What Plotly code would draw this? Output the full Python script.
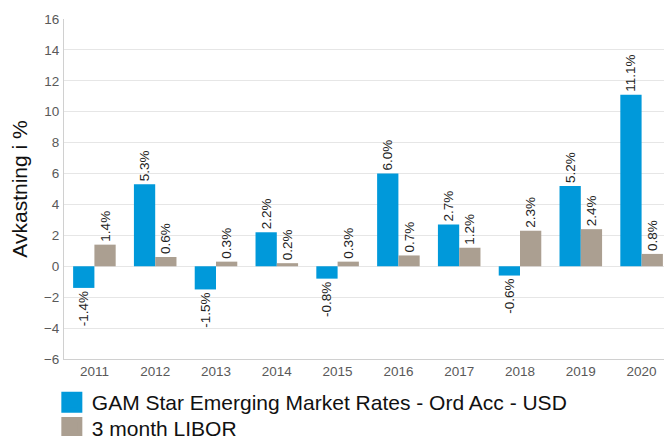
import plotly.graph_objects as go

years = ["2011", "2012", "2013", "2014", "2015", "2016", "2017", "2018", "2019", "2020"]
gam = [-1.4, 5.3, -1.5, 2.2, -0.8, 6.0, 2.7, -0.6, 5.2, 11.1]
libor = [1.4, 0.6, 0.3, 0.2, 0.3, 0.7, 1.2, 2.3, 2.4, 0.8]
names = ["GAM Star Emerging Market Rates - Ord Acc - USD", "3 month LIBOR"]
colors = ["#0099DA", "#AB9F91"]
legend_ids = ["legend", "legend2"]

fig = go.Figure()
for vals, name, col, lg in zip([gam, libor], names, colors, legend_ids):
    fig.add_trace(go.Bar(
        x=years, y=vals, name=name, marker_color=col, marker_line_width=0,
        text=[f"{v:.1f}%" for v in vals], textposition="outside", textangle=-90,
        textfont=dict(size=13.5, color="#222222"), cliponaxis=False,
        constraintext="none", showlegend=False,
    ))
    fig.add_trace(go.Scatter(
        x=[None], y=[None], mode="markers", name=name, legend=lg,
        marker=dict(symbol="square", size=16, color=col,
                    line=dict(width=5, color=col)),
    ))

legend_style = dict(orientation="v", x=-0.02, xanchor="left", yanchor="top",
                    font=dict(size=21, color="#111111"), itemsizing="trace",
                    bgcolor="rgba(0,0,0,0)")

# the page body has an 8px margin, so the figure is sized to end at the window edge
fig.update_layout(
    width=664, height=428,
    margin=dict(l=56, r=0, t=11, b=77, autoexpand=False),
    paper_bgcolor="white", plot_bgcolor="white",
    font=dict(family="Liberation Sans, Arial, sans-serif", color="#555555"),
    barmode="group", bargap=0.3, bargroupgap=0,
    showlegend=True,
    legend=dict(y=-0.068, **legend_style),
    legend2=dict(y=-0.142, **legend_style),
)
fig.update_yaxes(range=[-6, 16], dtick=2, showgrid=True, gridcolor="#E6E6E6",
                 zeroline=False, showline=True, linecolor="#D0D0D0",
                 ticklabelstandoff=1,
                 tickfont=dict(size=13.5, color="#595959"),
                 title=dict(text="Avkastning i %", font=dict(size=21, color="#111111"), standoff=12))
fig.update_xaxes(showline=True, linecolor="#D0D0D0", ticks="",
                 tickfont=dict(size=13.5, color="#595959"))

fig.write_html("out.html")
